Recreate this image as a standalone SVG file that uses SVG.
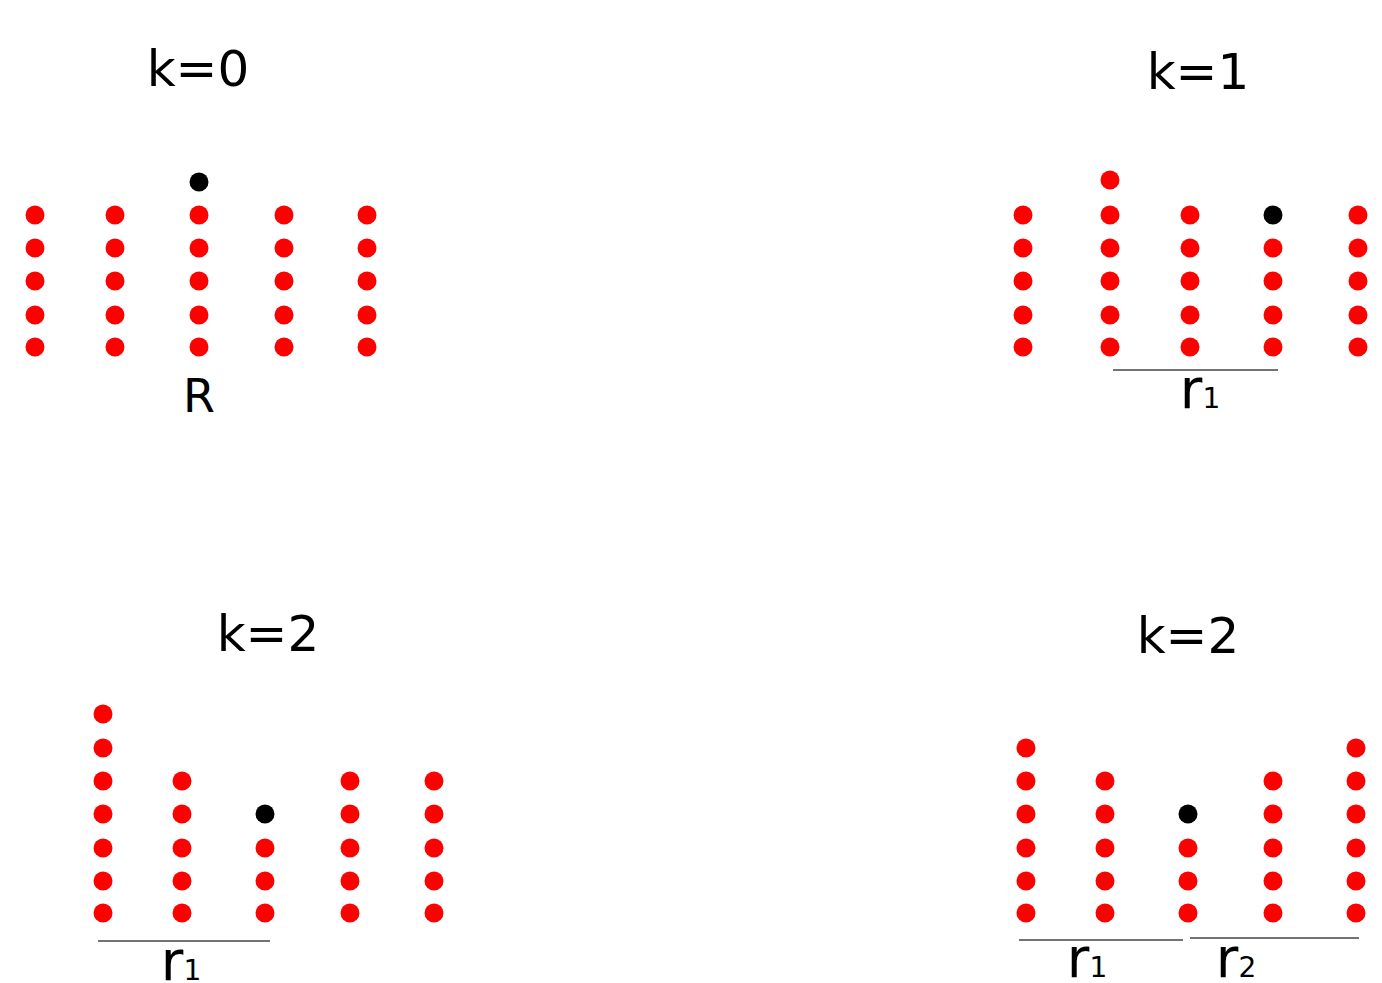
<svg xmlns="http://www.w3.org/2000/svg" width="1382" height="983" viewBox="0 0 1382 983">
<style>
.r{fill:#ff0000}
.b{fill:#000000}
.t{font-family:"DejaVu Sans","Liberation Sans",sans-serif;fill:#000;text-anchor:middle}
.title{font-size:50px}
.lab{font-size:46px}
.rl{font-size:55px}
.sub{font-size:28px}
.ln{stroke:#444;stroke-width:1.5;fill:none}
</style>
<rect width="1382" height="983" fill="#fff"/>
<defs>
<circle id="d" r="9.5"/>
</defs>
<g id="panel-k0">
<text class="t title" x="198" y="86">k=0</text>
<g class="r">
<use href="#d" x="35" y="215"/><use href="#d" x="35" y="248"/><use href="#d" x="35" y="281"/><use href="#d" x="35" y="315"/><use href="#d" x="35" y="347"/>
<use href="#d" x="115" y="215"/><use href="#d" x="115" y="248"/><use href="#d" x="115" y="281"/><use href="#d" x="115" y="315"/><use href="#d" x="115" y="347"/>
<use href="#d" x="199" y="215"/><use href="#d" x="199" y="248"/><use href="#d" x="199" y="281"/><use href="#d" x="199" y="315"/><use href="#d" x="199" y="347"/>
<use href="#d" x="284" y="215"/><use href="#d" x="284" y="248"/><use href="#d" x="284" y="281"/><use href="#d" x="284" y="315"/><use href="#d" x="284" y="347"/>
<use href="#d" x="367" y="215"/><use href="#d" x="367" y="248"/><use href="#d" x="367" y="281"/><use href="#d" x="367" y="315"/><use href="#d" x="367" y="347"/>
</g>
<use class="b" href="#d" x="199" y="182"/>
<text class="t lab" x="199" y="412">R</text>
</g>
<g id="panel-k1">
<text class="t title" x="1198" y="89">k=1</text>
<g class="r">
<use href="#d" x="1023" y="215"/><use href="#d" x="1023" y="248"/><use href="#d" x="1023" y="281"/><use href="#d" x="1023" y="315"/><use href="#d" x="1023" y="347"/>
<use href="#d" x="1110" y="180"/><use href="#d" x="1110" y="215"/><use href="#d" x="1110" y="248"/><use href="#d" x="1110" y="281"/><use href="#d" x="1110" y="315"/><use href="#d" x="1110" y="347"/>
<use href="#d" x="1190" y="215"/><use href="#d" x="1190" y="248"/><use href="#d" x="1190" y="281"/><use href="#d" x="1190" y="315"/><use href="#d" x="1190" y="347"/>
<use href="#d" x="1273" y="248"/><use href="#d" x="1273" y="281"/><use href="#d" x="1273" y="315"/><use href="#d" x="1273" y="347"/>
<use href="#d" x="1358" y="215"/><use href="#d" x="1358" y="248"/><use href="#d" x="1358" y="281"/><use href="#d" x="1358" y="315"/><use href="#d" x="1358" y="347"/>
</g>
<use class="b" href="#d" x="1273" y="215"/>
<text class="t rl" x="1200" y="408">r<tspan class="sub">1</tspan></text>
</g>
<g id="panel-k2a">
<text class="t title" x="268" y="651">k=2</text>
<g class="r">
<use href="#d" x="103" y="714"/><use href="#d" x="103" y="748"/><use href="#d" x="103" y="781"/><use href="#d" x="103" y="814"/><use href="#d" x="103" y="848"/><use href="#d" x="103" y="881"/><use href="#d" x="103" y="913"/>
<use href="#d" x="182" y="781"/><use href="#d" x="182" y="814"/><use href="#d" x="182" y="848"/><use href="#d" x="182" y="881"/><use href="#d" x="182" y="913"/>
<use href="#d" x="265" y="848"/><use href="#d" x="265" y="881"/><use href="#d" x="265" y="913"/>
<use href="#d" x="350" y="781"/><use href="#d" x="350" y="814"/><use href="#d" x="350" y="848"/><use href="#d" x="350" y="881"/><use href="#d" x="350" y="913"/>
<use href="#d" x="434" y="781"/><use href="#d" x="434" y="814"/><use href="#d" x="434" y="848"/><use href="#d" x="434" y="881"/><use href="#d" x="434" y="913"/>
</g>
<use class="b" href="#d" x="265" y="814"/>
<text class="t rl" x="181" y="980">r<tspan class="sub">1</tspan></text>
</g>
<g id="panel-k2b">
<text class="t title" x="1188" y="653">k=2</text>
<g class="r">
<use href="#d" x="1026" y="748"/><use href="#d" x="1026" y="781"/><use href="#d" x="1026" y="814"/><use href="#d" x="1026" y="848"/><use href="#d" x="1026" y="881"/><use href="#d" x="1026" y="913"/>
<use href="#d" x="1105" y="781"/><use href="#d" x="1105" y="814"/><use href="#d" x="1105" y="848"/><use href="#d" x="1105" y="881"/><use href="#d" x="1105" y="913"/>
<use href="#d" x="1188" y="848"/><use href="#d" x="1188" y="881"/><use href="#d" x="1188" y="913"/>
<use href="#d" x="1273" y="781"/><use href="#d" x="1273" y="814"/><use href="#d" x="1273" y="848"/><use href="#d" x="1273" y="881"/><use href="#d" x="1273" y="913"/>
<use href="#d" x="1356" y="748"/><use href="#d" x="1356" y="781"/><use href="#d" x="1356" y="814"/><use href="#d" x="1356" y="848"/><use href="#d" x="1356" y="881"/><use href="#d" x="1356" y="913"/>
</g>
<use class="b" href="#d" x="1188" y="814"/>
<text class="t rl" x="1087" y="977">r<tspan class="sub">1</tspan></text>
<text class="t rl" x="1236" y="977">r<tspan class="sub">2</tspan></text>
</g>
<g id="connectors">
<line class="ln" x1="1113" y1="370" x2="1278" y2="370"/>
<line class="ln" x1="98" y1="941" x2="270" y2="941"/>
<line class="ln" x1="1019" y1="940" x2="1183" y2="940"/>
<line class="ln" x1="1190" y1="938" x2="1359" y2="938"/>
</g>
</svg>
